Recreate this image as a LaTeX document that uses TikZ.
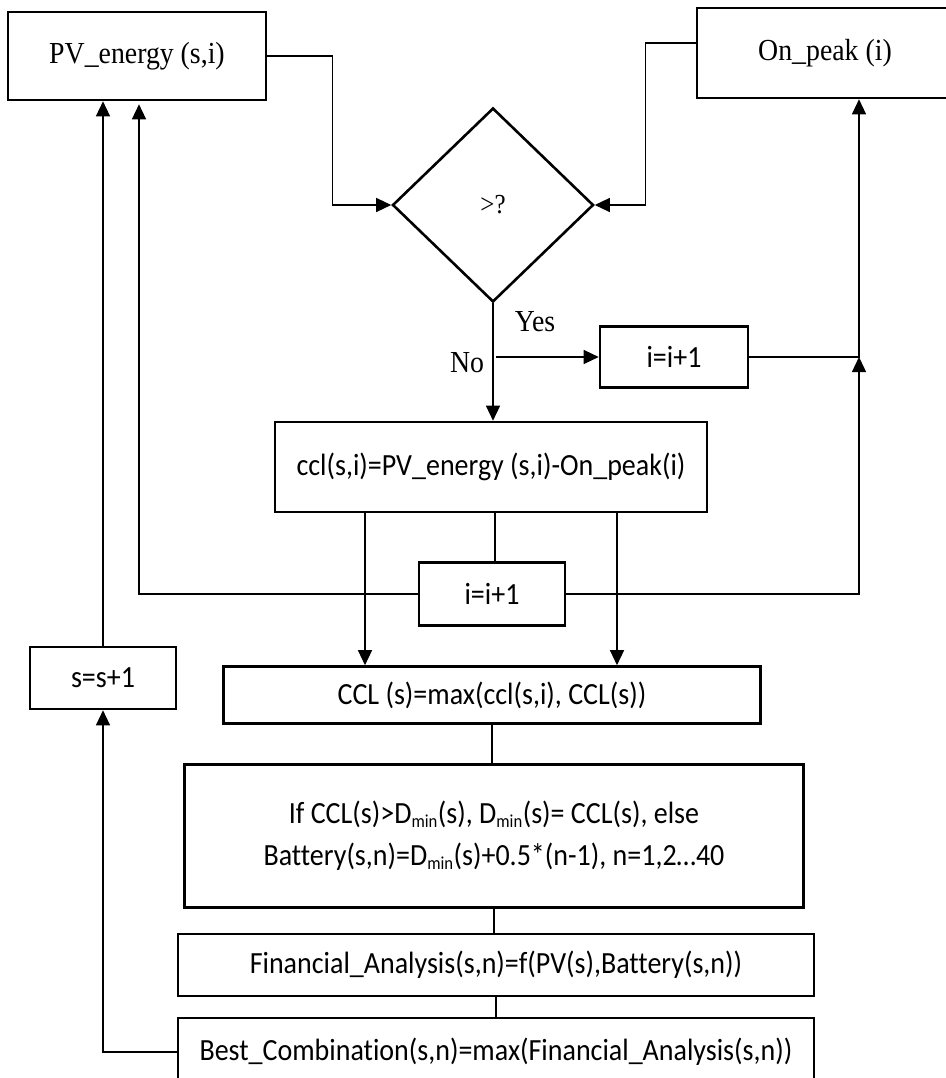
\documentclass[tikz,border=0pt]{standalone}
\usepackage{fontspec}
\setmainfont{Liberation Serif}
\newfontfamily\calfont[Ligatures=NoCommon]{Carlito}
\usetikzlibrary{positioning,arrows.meta,shapes.geometric}
\newcommand\tallt[1]{\scalebox{1}[1.1]{#1}}
\newcommand\subm{\textsubscript{\scalebox{0.85}{min}}}

\begin{document}
\begin{tikzpicture}[x=1pt,y=-1pt,
  arr/.style={-{Triangle[length=15pt,width=14pt]},line width=1.3pt},
  ln/.style={line width=1.3pt},
  tbox/.style={draw,line width=2.6pt,inner sep=0pt,font=\fontsize{27.8}{32}\selectfont},
  cbox/.style={draw,line width=2.6pt,inner sep=0pt,font=\calfont\fontsize{28}{42}\selectfont}]
\useasboundingbox (0,0) rectangle (945,1078);
\node[tbox,minimum width=258pt,minimum height=88pt] (pv) at (137,56) {\tallt{PV\_energy (s,i)}};
\node[tbox,minimum width=256pt,minimum height=90pt] (onpeak) at (825,53) {\tallt{On\_peak (i)}};
\node[draw,diamond,line width=2.6pt,inner sep=0pt,minimum width=201pt,minimum height=194pt,font=\fontsize{25}{30}\selectfont] (cmp) at (493,205) {\tallt{>?}};
\node[cbox,minimum width=148pt,minimum height=61pt] (inc1) at (674,357) {\tallt{i=i+1}};
\node[cbox,minimum width=432pt,minimum height=90pt] (ccl) at (491,467) {\tallt{ccl(s,i)=PV\_energy (s,i)-On\_peak(i)}};
\node[cbox,minimum width=146pt,minimum height=63pt] (inc2) at (492,594) {\tallt{i=i+1}};
\node[cbox,minimum width=146pt,minimum height=62pt] (sinc) at (103,678) {\tallt{s=s+1}};
\node[cbox,minimum width=537pt,minimum height=57pt] (cclmax) at (492,695) {\tallt{CCL (s)=max(ccl(s,i), CCL(s))}};
\node[cbox,align=center,minimum width=619pt,minimum height=143pt] (dmin) at (494,836) {\tallt{If CCL(s)>D\subm(s), D\subm(s)= CCL(s), else}\\\tallt{Battery(s,n)=D\subm(s)+0.5*(n-1), n=1,2…40}};
\node[cbox,minimum width=636pt,minimum height=62pt] (fin) at (496,965) {\tallt{Financial\_Analysis(s,n)=f(PV(s),Battery(s,n))}};
\node[cbox,minimum width=636pt,minimum height=68pt] (best) at (496,1052) {\tallt{Best\_Combination(s,n)=max(Financial\_Analysis(s,n))}};
\node[font=\fontsize{27.8}{32}\selectfont] (yes) at (535,322) {\tallt{Yes}};
\node[font=\fontsize{27.8}{32}\selectfont] (no) at (467,363) {\tallt{No}};
\coordinate (yn) at ([xshift=3pt]cmp.south |- inc1.west);
\coordinate (rj) at (859,357);
\draw[arr] (pv.east) -- ++(65,0) |- (cmp.west);
\draw[arr] ([yshift=10pt]onpeak.west) -- ++(-50,0) |- (cmp.east);
\draw[arr] (cmp.south) -- (cmp.south |- ccl.north);
\draw[arr] (yn) -- (inc1.west);
\draw[arr] (inc1.east) -- (rj) -- (rj |- onpeak.south);
\draw[arr] (inc2.east) -| (rj);
\draw[arr,shorten >=3pt] (inc2.west) -| ([xshift=2pt]pv.south);
\draw[arr] (sinc.north) -- (sinc.north |- pv.south);
\draw[arr] ([xshift=-126pt]ccl.south) -- ([xshift=-126pt]ccl.south |- cclmax.north);
\draw[arr] ([xshift=126pt]ccl.south) -- ([xshift=126pt]ccl.south |- cclmax.north);
\draw[ln] ([xshift=4pt]ccl.south) -- ([xshift=4pt]ccl.south |- inc2.north);
\draw[ln] (cclmax.south) -- (cclmax.south |- dmin.north);
\draw[ln] (dmin.south) -- (dmin.south |- fin.north);
\draw[ln] (fin.south) -- (fin.south |- best.north);
\draw[arr] (best.west) -| (sinc.south);
\end{tikzpicture}
\end{document}
